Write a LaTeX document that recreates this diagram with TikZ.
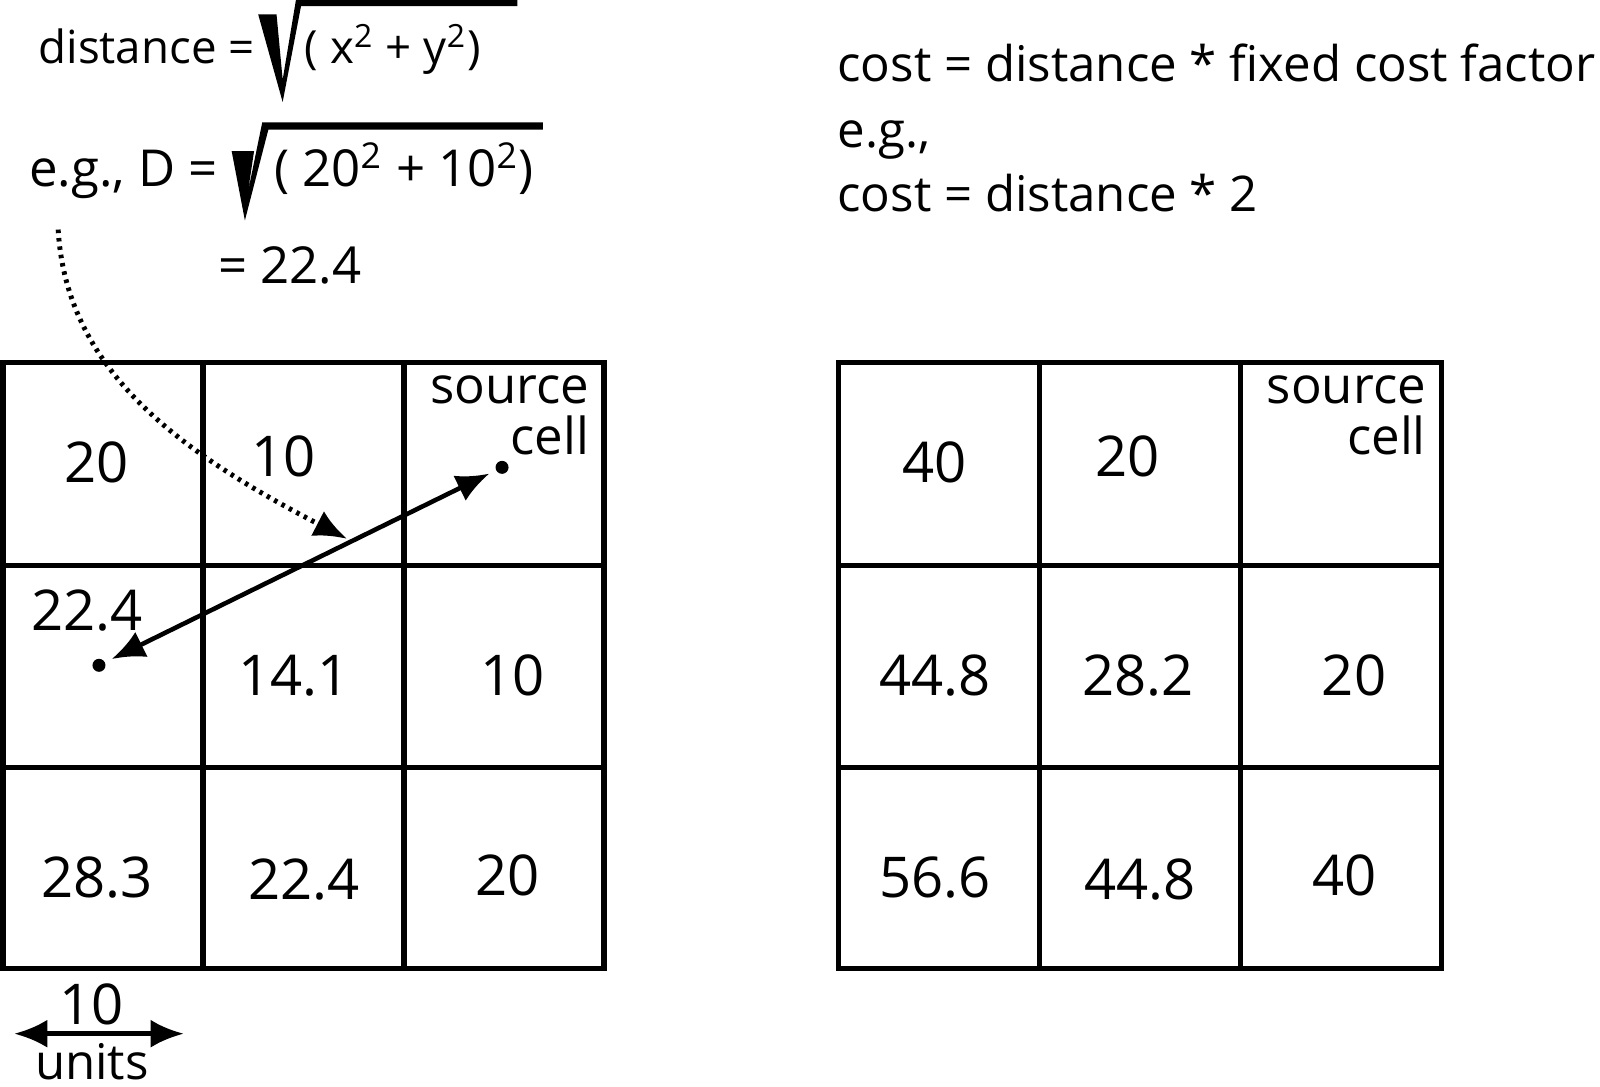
\documentclass[tikz,border=0pt]{standalone}
\usepackage{fontspec}
\setmainfont{Open Sans}
\usetikzlibrary{arrows.meta}
\begin{document}
\begin{tikzpicture}[x=0.010204cm,y=-0.010204cm,
  >={Latex[length=0.33cm,width=0.28cm]},
  gridline/.style={line width=1.5pt},
  lbl/.style={inner sep=0pt, font=\fontsize{14}{17}\selectfont},
  form/.style={inner sep=0pt, font=\fontsize{13}{16}\selectfont},
  big/.style={inner sep=0pt, font=\fontsize{14.5}{17}\selectfont},
  num/.style={inner sep=0pt, font=\fontsize{16}{19}\selectfont},
  src/.style={inner sep=0pt, align=right, font=\fontsize{14.5}{14.5}\selectfont},
  dotnode/.style={circle, fill, inner sep=0pt, minimum size=0.13cm},
  dotline/.style={line width=1.4pt, dash pattern=on 1pt off 1.4pt}]
\useasboundingbox (0,0) rectangle (1568,1065);

% formulas
\node[form, anchor=base west] (f1a) at (37,62) {distance =};
\fill (253,14) -- (271,14) -- (277,78) -- (290,0) -- (507,0) -- (507,6) -- (295,6) -- (277,100) -- cycle;
\node[form, anchor=base west] (f1b) at (298,62) {( x\textsuperscript{2} + y\textsuperscript{2})};

\node[big, anchor=base west] (f2a) at (28,183) {e.g., D =};
\fill (227,148) -- (249,148) -- (243,188) -- (257,120) -- (532,120) -- (532,127) -- (263,127) -- (240,216) -- cycle;
\node[big, anchor=base west] (f2b) at (268,183) {( 20\textsuperscript{2} + 10\textsuperscript{2})};
\node[big, anchor=base west] (f2c) at (213,278) {= 22.4};

\node[lbl, anchor=base west] (c1) at (820,80) {cost = distance * fixed cost factor};
\node[lbl, anchor=base west] (c2) at (820,145) {e.g.,};
\node[lbl, anchor=base west] (c3) at (820,207) {cost = distance * 2};

% left grid
\draw[gridline] (3,355) rectangle (592,949);
\draw[gridline] (199,355) -- (199,949) (396,355) -- (396,949)
  (3,554) -- (592,554) (3,752) -- (592,752);
\node[num] (l11) at (95,453) {20};
\node[num] (l12) at (278,447) {10};
\node[src, anchor=north east] (l13) at (578,368) {source\\cell};
\node[num] (l21) at (85,598) {22.4};
\node[num] (l22) at (288,662) {14.1};
\node[num] (l23) at (502,662) {10};
\node[num] (l31) at (95,860) {28.3};
\node[num] (l32) at (298,862) {22.4};
\node[num] (l33) at (497,858) {20};

% right grid
\draw[gridline] (822,355) rectangle (1413,949);
\draw[gridline] (1019,355) -- (1019,949) (1216,355) -- (1216,949)
  (822,554) -- (1413,554) (822,752) -- (1413,752);
\node[num] (r11) at (916,453) {40};
\node[num] (r12) at (1105,447) {20};
\node[src, anchor=north east] (r13) at (1398,368) {source\\cell};
\node[num] (r21) at (916,662) {44.8};
\node[num] (r22) at (1115,662) {28.2};
\node[num] (r23) at (1327,662) {20};
\node[num] (r31) at (916,860) {56.6};
\node[num] (r32) at (1117,862) {44.8};
\node[num] (r33) at (1318,858) {40};

% distance arrow
\node[dotnode] (srcpt) at (492,458) {};
\node[dotnode] (dstpt) at (97,652) {};
\draw[line width=1.3pt, <->, shorten <=2pt, shorten >=2pt] (dstpt) -- (srcpt);

% dotted pointer
\coordinate (dstart) at (57,225);
\coordinate (dend) at (340,528);
\draw[dotline, ->] (dstart) .. controls (65,360) and (170,440) .. (dend);

% scale bar
\coordinate (sbl) at (14,1013);
\coordinate (sbr) at (180,1013);
\draw[line width=1.3pt, <->] (sbl) -- (sbr);
\node[num] (s10) at (90,984) {10};
\node[num, font=\fontsize{14}{16}\selectfont, anchor=base] (sunits) at (90,1058) {units};
\end{tikzpicture}
\end{document}
